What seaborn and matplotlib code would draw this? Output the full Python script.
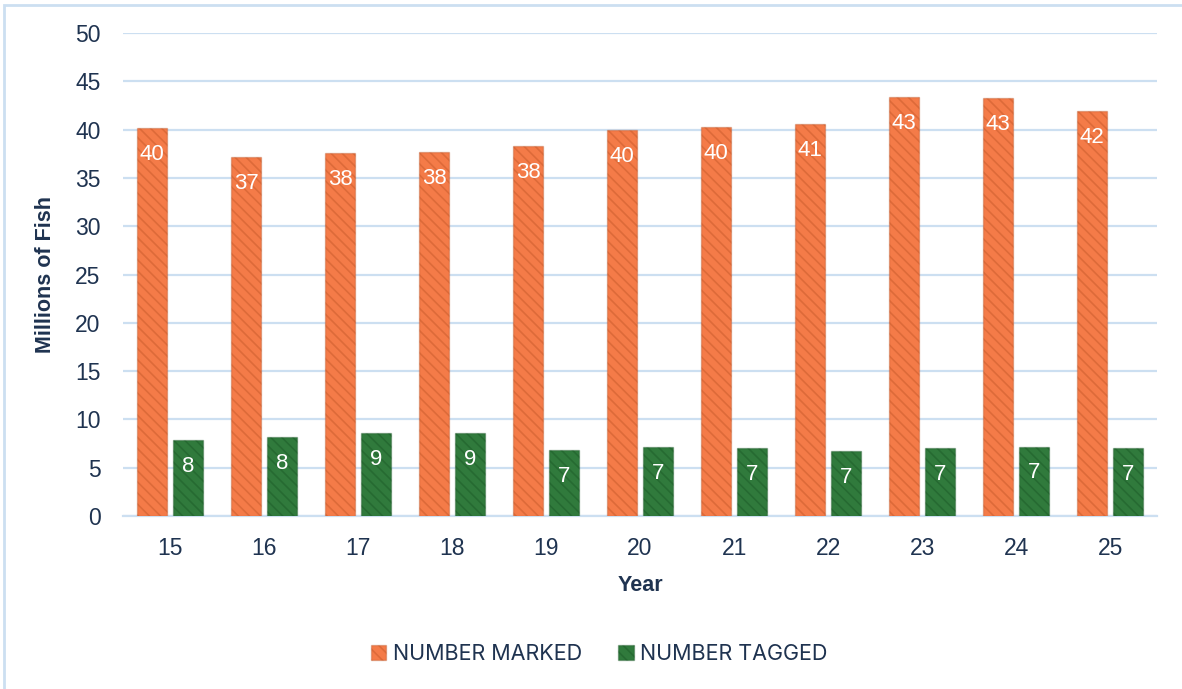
import numpy as np
import pandas as pd
import matplotlib
matplotlib.use("Agg")
import matplotlib.pyplot as plt
from matplotlib.patches import Rectangle
import seaborn as sns

# data (millions of fish)
years = ["15", "16", "17", "18", "19", "20", "21", "22", "23", "24", "25"]
number_marked = [40.2, 37.2, 37.6, 37.7, 38.3, 40.0, 40.3, 40.6, 43.4, 43.3, 41.9]
number_tagged = [7.9, 8.2, 8.6, 8.6, 6.8, 7.1, 7.0, 6.7, 7.0, 7.2, 7.0]
series = ["NUMBER MARKED", "NUMBER TAGGED"]
y_ticks = [0, 5, 10, 15, 20, 25, 30, 35, 40, 45, 50]

navy = "#1F3350"
grid_blue = "#CCDFF1"
fills = {"NUMBER MARKED": "#F47B48", "NUMBER TAGGED": "#307A3C"}
edges = {"NUMBER MARKED": (0.70, 0.30, 0.12, 0.35), "NUMBER TAGGED": (0.08, 0.30, 0.12, 0.35)}

df = pd.DataFrame({
    "Year": years * 2,
    "Value": number_marked + number_tagged,
    "Series": [series[0]] * len(years) + [series[1]] * len(years),
})

sns.set_theme(style="white")
plt.rcParams["font.family"] = ["Liberation Sans", "DejaVu Sans"]
plt.rcParams["hatch.linewidth"] = 1.2

fig = plt.figure(figsize=(11.82, 6.89), dpi=100)
ax = fig.add_axes([0.104, 0.251, 0.875, 0.701])

sns.barplot(data=df, x="Year", y="Value", hue="Series", hue_order=series,
            order=years, palette=fills, width=0.76, gap=0.16,
            legend=False, ax=ax, saturation=1)

# bar texture + value labels inside the top of each bar
for cont, name in zip(ax.containers, series):
    for bar in cont:
        bar.set_edgecolor(edges[name])
        bar.set_linewidth(1.0)
        bar.set_hatch("\\\\\\")
        bar.set_zorder(3)
        h = bar.get_height()
        ax.annotate(f"{h:.0f}", (bar.get_x() + bar.get_width() / 2, h),
                    xytext=(0, -19), textcoords="offset points",
                    ha="center", va="center", color="white", fontsize=16,
                    zorder=4)

ax.set_ylim(0, 50)
ax.set_xlim(-0.5, len(years) - 0.5)
ax.set_yticks(y_ticks)
ax.yaxis.grid(True, color=grid_blue, linewidth=1.6, zorder=0)
ax.set_axisbelow(True)
for s in ["top", "right", "left"]:
    ax.spines[s].set_visible(False)
ax.spines["bottom"].set_color(grid_blue)
ax.spines["bottom"].set_linewidth(1.6)
ax.tick_params(axis="both", length=0, labelsize=16.5, colors=navy)
ax.tick_params(axis="y", pad=16)
ax.tick_params(axis="x", pad=15)

ax.set_xlabel("Year", fontsize=15.5, fontweight="bold", color=navy, labelpad=11)
ax.set_ylabel("Millions of Fish", fontsize=15.5, fontweight="bold", color=navy,
              labelpad=14)

handles = [Rectangle((0, 0), 1, 1, facecolor=fills[n], edgecolor=edges[n],
                     hatch="\\\\\\", linewidth=1.0) for n in series]
leg = fig.legend(handles, series, loc="center", bbox_to_anchor=(0.507, 0.051),
                 ncol=2, frameon=False, handlelength=0.7, handleheight=0.7,
                 handletextpad=0.3, columnspacing=1.7,
                 prop={"family": ["Inter", "DejaVu Sans"], "size": 15.5})
for t in leg.get_texts():
    t.set_color(navy)

# chart frame (left and top edges visible)
fig.patches.append(Rectangle((0.003, -0.1), 1.2, 1.093, transform=fig.transFigure,
                             fill=False, edgecolor=grid_blue, linewidth=2))

fig.savefig("out.png", dpi=100)
